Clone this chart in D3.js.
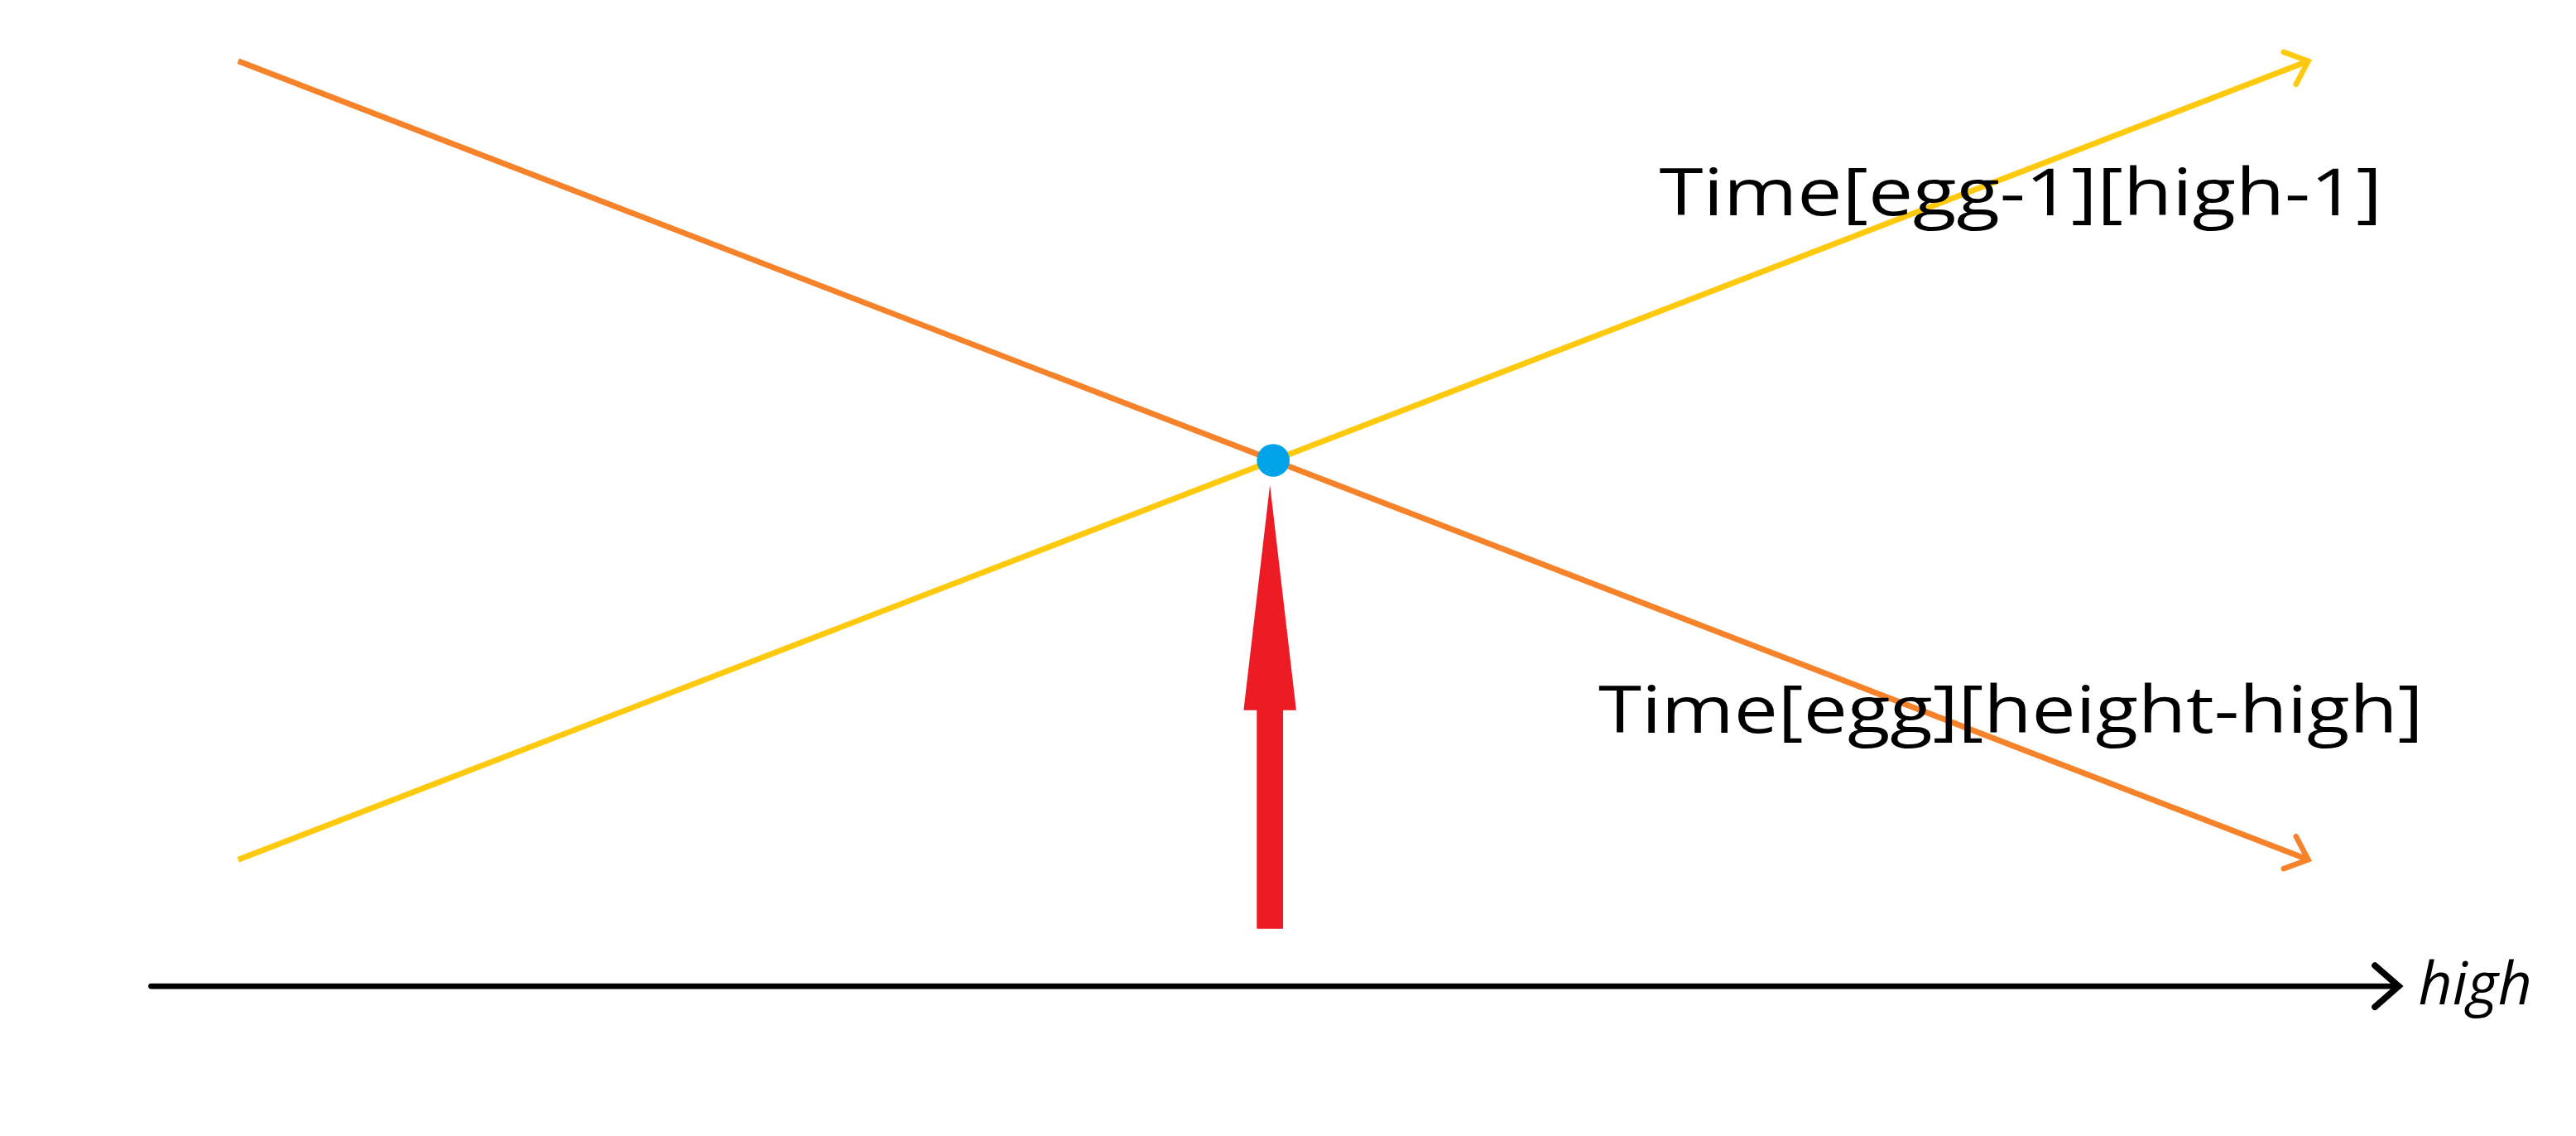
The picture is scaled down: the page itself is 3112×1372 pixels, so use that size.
<!DOCTYPE html>
<html lang="en">
<head>
<meta charset="UTF-8">
<title>Time crossing</title>
<script src="https://d3js.org/d3.v7.min.js"></script>
<style>
  body { margin: 0; background: #fff; }
  text { font-family: "Open Sans", sans-serif; }
</style>
</head>
<body>
<svg width="3112" height="1372" viewBox="0 0 1568 691"></svg>
<script>
// data (normalised: high in [0,1], time in [0,1])
const highPoints = [0, 1];
const timeEggHeightHigh = [1, 0];  // orange, falling
const timeEgg1High1 = [0, 1];      // yellow, rising
const crossPoint = [0.5, 0.5];
const labels = ["Time[egg-1][high-1]", "Time[egg][height-high]"];
const axisLabel = "high";

const svg = d3.select("svg");
const x = d3.scaleLinear().domain([0, 1]).range([145, 1405]);
const y = d3.scaleLinear().domain([0, 1]).range([523, 37]);

function chevron(id, color, size) {
  svg.append("defs").append("marker")
    .attr("id", id).attr("viewBox", "-10 -10 20 20")
    .attr("refX", 0).attr("refY", 0)
    .attr("markerWidth", size).attr("markerHeight", size)
    .attr("markerUnits", "userSpaceOnUse")
    .attr("orient", "auto")
    .append("path").attr("d", "M-8,-7 L0,0 L-8,7")
    .attr("fill", "none").attr("stroke", color)
    .attr("stroke-width", 2.2).attr("stroke-linecap", "round");
}
chevron("ao", "#f6822a", 30);
chevron("ay", "#ffc90e", 30);
chevron("ak", "#000", 36);

const line = d3.line().x(d => x(d[0])).y(d => y(d[1]));

svg.append("path")
  .datum(highPoints.map((h, i) => [h, timeEggHeightHigh[i]]))
  .attr("d", line).attr("fill", "none")
  .attr("stroke", "#f6822a").attr("stroke-width", 3.5)
  .attr("marker-end", "url(#ao)");

svg.append("path")
  .datum(highPoints.map((h, i) => [h, timeEgg1High1[i]]))
  .attr("d", line).attr("fill", "none")
  .attr("stroke", "#ffc90e").attr("stroke-width", 3.5)
  .attr("marker-end", "url(#ay)");

// red arrow pointing at the crossing
const cx = x(crossPoint[0]) - 2, cy = y(crossPoint[1]);
svg.append("path")
  .attr("d", `M${cx},${cy + 15} L${cx + 16},${432} L${cx + 8},${432} L${cx + 8},${565} L${cx - 8},${565} L${cx - 8},${432} L${cx - 16},${432} Z`)
  .attr("fill", "#ed1c24");

svg.append("circle")
  .attr("cx", x(crossPoint[0])).attr("cy", y(crossPoint[1]))
  .attr("r", 10).attr("fill", "#00a2e8");

// x axis
svg.append("line")
  .attr("x1", 92).attr("x2", 1460).attr("y1", 600).attr("y2", 600)
  .attr("stroke", "#000").attr("stroke-width", 3.5)
  .attr("stroke-linecap", "round")
  .attr("marker-end", "url(#ak)");
svg.append("text").attr("x", 1472).attr("y", 611)
  .attr("font-size", 36).attr("font-style", "italic")
  .text(axisLabel);

svg.append("text").attr("x", 1010).attr("y", 131)
  .attr("font-size", 40).attr("textLength", 440).attr("lengthAdjust", "spacingAndGlyphs")
  .text(labels[0]);
svg.append("text").attr("x", 973).attr("y", 446)
  .attr("font-size", 40).attr("textLength", 502).attr("lengthAdjust", "spacingAndGlyphs")
  .text(labels[1]);
</script>
</body>
</html>
